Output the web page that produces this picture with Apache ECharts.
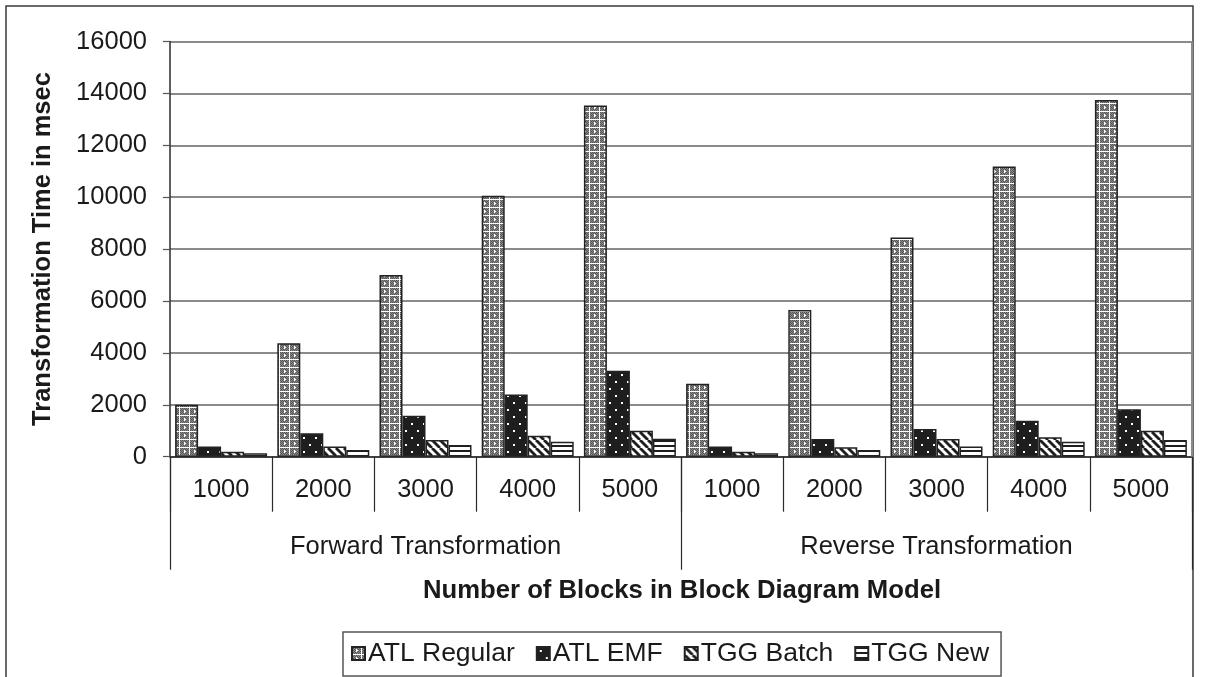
<!DOCTYPE html>
<html>
<head>
<meta charset="utf-8">
<script src="https://cdn.jsdelivr.net/npm/echarts@6/dist/echarts.min.js"></script>
<style>
  html, body { margin: 0; padding: 0; background: #fff; }
  #chart { width: 1206px; height: 677px; }
</style>
</head>
<body>
<div id="chart"></div>
<script>
// Block counts per transformation direction
const blockCounts = ['1000', '2000', '3000', '4000', '5000'];
const directions = ['Forward Transformation', 'Reverse Transformation'];
const categories = directions.flatMap(() => blockCounts);

// Transformation time in msec (forward 1000..5000, then reverse 1000..5000)
const atlRegular = [2000, 4370, 7000, 10060, 13530, 2810, 5650, 8450, 11180, 13750];
const atlEmf     = [390, 900, 1580, 2400, 3310, 390, 680, 1070, 1390, 1830];
const tggBatch   = [190, 390, 640, 810, 1000, 190, 360, 680, 750, 1000];
const tggNew     = [130, 260, 450, 580, 690, 130, 260, 390, 580, 640];

const seriesNames = ['ATL Regular', 'ATL EMF', 'TGG Batch', 'TGG New'];
const yTicks = { min: 0, max: 16000, step: 2000 };

// Fill patterns drawn on small canvas tiles
function tile(w, h, draw) {
  const c = document.createElement('canvas');
  c.width = w; c.height = h;
  draw(c.getContext('2d'));
  return { image: c, repeat: 'repeat' };
}
const patRegular = tile(10, 8, g => {
  g.fillStyle = '#8c8c8c'; g.fillRect(0, 0, 10, 8);
  g.fillStyle = '#555555';
  for (let y = 0; y < 8; y++) for (let x = 0; x < 10; x++) if ((x + y) % 2 === 0) g.fillRect(x, y, 1, 1);
  g.fillStyle = '#ffffff';
  g.fillRect(9, 0, 1, 8); g.fillRect(0, 7, 10, 1);
  g.fillRect(4, 3, 2, 1); g.fillRect(4, 2, 1, 3);
});
const patEmf = tile(12, 14, g => {
  g.fillStyle = '#1e1e1e'; g.fillRect(0, 0, 12, 14);
  g.fillStyle = '#ffffff';
  g.fillRect(3, 3, 2, 2); g.fillRect(9, 10, 2, 2);
});
const patBatch = tile(8, 8, g => {
  g.fillStyle = '#ffffff'; g.fillRect(0, 0, 8, 8);
  g.strokeStyle = '#1e1e1e'; g.lineWidth = 2.8;
  for (let k = -8; k <= 16; k += 8) {
    g.beginPath(); g.moveTo(k, 0); g.lineTo(k + 8, 8); g.stroke();
  }
});
const patNew = tile(8, 5, g => {
  g.fillStyle = '#ffffff'; g.fillRect(0, 0, 8, 5);
  g.fillStyle = '#1e1e1e'; g.fillRect(0, 0, 8, 2);
});
const patterns = [patRegular, patEmf, patBatch, patNew];
const values = [atlRegular, atlEmf, tggBatch, tggNew];

const FONT = 'Liberation Sans, Arial, sans-serif';
const chart = echarts.init(document.getElementById('chart'), null, { renderer: 'canvas' });

chart.setOption({
  animation: false,
  backgroundColor: '#ffffff',
  textStyle: { fontFamily: FONT },
  grid: { left: 170, right: 14, top: 41.5, bottom: 220.3, containLabel: false },
  legend: {
    data: seriesNames,
    left: 343, top: 632,
    orient: 'horizontal',
    icon: 'rect',
    itemWidth: 13, itemHeight: 13, itemGap: 21,
    padding: [8, 12, 9, 8],
    borderColor: '#555', borderWidth: 1.5,
    textStyle: { fontFamily: FONT, fontSize: 26.5, color: '#1a1a1a', padding: [0, 0, 0, -2] }
  },
  xAxis: [
    {
      type: 'category', data: categories, position: 'bottom',
      axisLine: { show: true, lineStyle: { color: '#2a2a2a', width: 1.5 } },
      axisTick: { show: true, interval: 0, length: 55, lineStyle: { color: '#2a2a2a', width: 1.2 } },
      axisLabel: { interval: 0, margin: 20, fontSize: 25.5, color: '#1a1a1a', fontFamily: FONT }
    },
    {
      type: 'category', data: directions, position: 'bottom',
      axisLine: { show: false },
      axisTick: { show: true, interval: 0, length: 113, lineStyle: { color: '#2a2a2a', width: 1.2 } },
      axisLabel: { interval: 0, margin: 77, fontSize: 25.5, color: '#1a1a1a', fontFamily: FONT }
    }
  ],
  yAxis: {
    type: 'value', min: yTicks.min, max: yTicks.max, interval: yTicks.step,
    axisLine: { show: true, lineStyle: { color: '#2a2a2a', width: 1.5 } },
    axisTick: { show: true, length: 7, lineStyle: { color: '#555', width: 1.2 } },
    axisLabel: { margin: 23, fontSize: 25.5, color: '#1a1a1a', fontFamily: FONT, formatter: v => String(v) },
    splitLine: { show: true, lineStyle: { color: '#8a8a8a', width: 2 } }
  },
  series: seriesNames.map((name, i) => ({
    name, type: 'bar', xAxisIndex: 0,
    data: values[i],
    barGap: '0%', barCategoryGap: '10%',
    itemStyle: { color: patterns[i], borderColor: '#222', borderWidth: 1.5 }
  })),
  graphic: [
    {
      type: 'rect', silent: true, z: 0,
      shape: { x: 6, y: 6, width: 1187, height: 720 },
      style: { fill: 'none', stroke: '#3a3a3a', lineWidth: 1.5 }
    },
    {
      type: 'line', silent: true, z: 1,
      shape: { x1: 1192, y1: 41.5, x2: 1192, y2: 456.7 },
      style: { stroke: '#8a8a8a', lineWidth: 2 }
    },
    {
      type: 'text', x: 43, y: 249, rotation: Math.PI / 2,
      style: {
        text: 'Transformation Time in msec', font: 'bold 25.5px ' + FONT,
        fill: '#1a1a1a', textAlign: 'center', textVerticalAlign: 'middle'
      }
    },
    {
      type: 'text', x: 682, y: 591,
      style: {
        text: 'Number of Blocks in Block Diagram Model', font: 'bold 25.7px ' + FONT,
        fill: '#1a1a1a', textAlign: 'center', textVerticalAlign: 'middle'
      }
    }
  ]
});
</script>
</body>
</html>
